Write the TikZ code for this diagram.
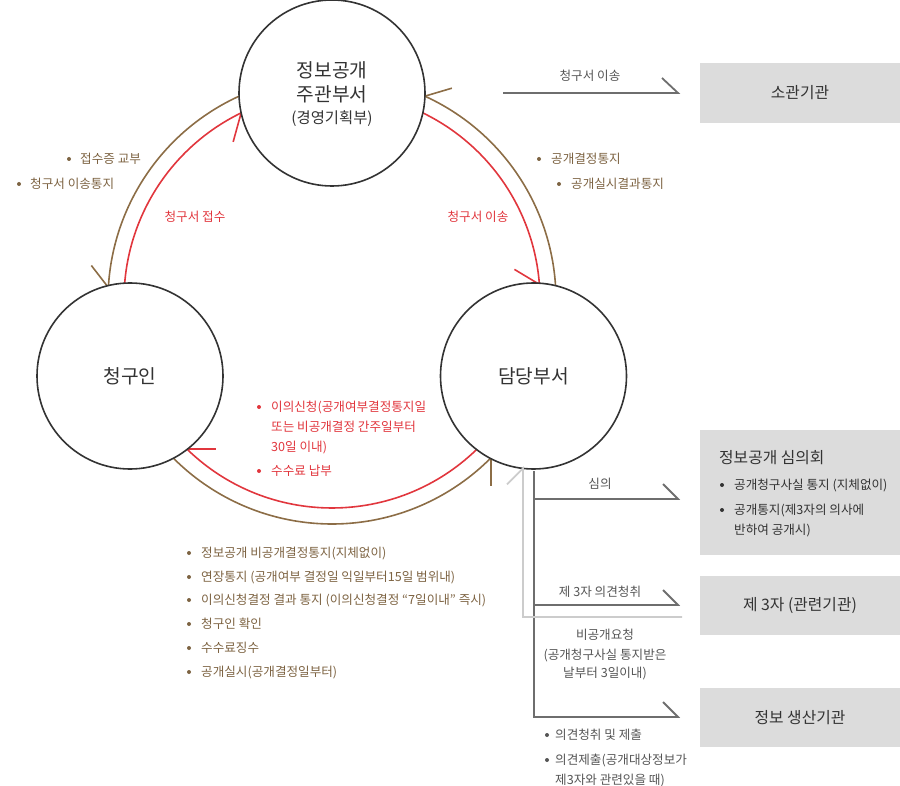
\documentclass[tikz,border=0pt]{standalone}
\usepackage{fontspec}
\setmainfont{Noto Sans CJK KR}
\definecolor{brownc}{HTML}{8C6D46}
\definecolor{browntx}{HTML}{7D6342}
\definecolor{redc}{HTML}{E1363D}
\definecolor{grayc}{HTML}{6E6E6E}
\definecolor{graytx}{HTML}{555555}
\definecolor{lgrayc}{HTML}{CCCCCC}
\definecolor{boxc}{HTML}{DCDCDC}
\definecolor{circc}{HTML}{333333}
\definecolor{darktx}{HTML}{333333}
\begin{document}
\begin{tikzpicture}[x=1pt,y=-1pt,
  circ/.style={circle,draw=circc,line width=1.6pt,fill=white,minimum size=186pt,inner sep=0pt,text=darktx,font=\fontsize{19.2}{22}\selectfont},
  brownarc/.style={draw=brownc,line width=1.6pt},
  redarc/.style={draw=redc,line width=1.6pt},
  grayline/.style={draw=grayc,line width=1.8pt},
  lgline/.style={draw=lgrayc,line width=1.8pt},
  box/.style={fill=boxc,draw=none,minimum width=200pt,inner sep=0pt,text=darktx,font=\fontsize{15.8}{18}\selectfont},
  sm/.style={font=\fontsize{12.6}{15}\selectfont,inner sep=0pt,anchor=base west},
  smc/.style={font=\fontsize{12.6}{15}\selectfont,inner sep=0pt,anchor=base},
  lg/.style={font=\fontsize{19.2}{22}\selectfont,inner sep=0pt,anchor=base,text=darktx},
  md/.style={font=\fontsize{15.8}{18}\selectfont,inner sep=0pt,text=darktx}]
\useasboundingbox (0,0) rectangle (900,786);

% centre of the ring of arcs
\coordinate (O) at (332,300);

% ---------- arcs (brown outer, red inner) ----------
\draw[brownarc] ([shift={(O)}]-114.5:224) arc[start angle=-114.5,end angle=-176.8,radius=224];
\draw[brownarc] ([shift={(O)}]-3.35:224) arc[start angle=-3.35,end angle=-65.5,radius=224];
\draw[brownarc] ([shift={(O)}]134.9:224) arc[start angle=134.9,end angle=44.8,radius=224];
\draw[redarc] ([shift={(O)}]-175.9:208) arc[start angle=-175.9,end angle=-115.9,radius=208];
\draw[redarc] ([shift={(O)}]-64.1:208) arc[start angle=-64.1,end angle=-4.3,radius=208];
\draw[redarc] ([shift={(O)}]45.8:208) arc[start angle=45.8,end angle=134.2,radius=208];

\coordinate (tBL) at ([shift={(O)}]-176.8:224);
\coordinate (tBT) at ([shift={(O)}]-65.5:224);
\coordinate (tBB) at ([shift={(O)}]44.8:224);
\coordinate (tRT) at ([shift={(O)}]-115.9:208);
\coordinate (tRR) at ([shift={(O)}]-4.3:208);
\coordinate (tRB) at ([shift={(O)}]134.2:208);
\draw[brownarc] (tBL) -- ++(-17,-22);
\draw[brownarc] (tBT) -- ++(27,-8);
\draw[brownarc] (tBB) -- ++(0,28);
\draw[redarc] (tRT) -- ++(-8,29);
\draw[redarc] (tRR) -- ++(-25,-15);
\draw[redarc] (tRB) -- ++(29,0);

% ---------- circles ----------
\node[circ] (top) at (332,93) {};
\node[circ] (left) at (130,376) {청구인};
\node[circ] (right) at (533.5,376) {담당부서};
\node[lg] (top1) at (332,77.1) {정보공개};
\node[lg] (top2) at (332,101.1) {주관부서};
\node[md,anchor=base,font=\fontsize{15.4}{18}\selectfont] (top3) at (332,123.7) {(경영기획부)};

% ---------- boxes ----------
\node[box,minimum height=60pt] (b1) at (800,93) {소관기관};
\node[box,minimum height=125pt,anchor=north west] (b2) at (700,430) {};
\node[box,minimum height=59pt] (b3) at (800,605.5) {제 3자 (관련기관)};
\node[box,minimum height=59pt] (b4) at (800,717.5) {정보 생산기관};
\node[md,anchor=base west] (b2t) at (719,463.8) {정보공개 심의회};
\fill[darktx] (722,485) circle[radius=2pt];
\fill[darktx] (722,510) circle[radius=2pt];
\node[sm,text=darktx] (b2a) at (734,489.7) {공개청구사실 통지 (지체없이)};
\node[sm,text=darktx] (b2b) at (734,514.7) {공개통지(제3자의 의사에};
\node[sm,text=darktx] (b2c) at (734,534.7) {반하여 공개시)};

% ---------- gray connectors ----------
\coordinate (s1) at (503,93);
\coordinate (e1) at (678,93);
\draw[grayline] (s1) -- (e1) -- ++(-16,-15);
\node[smc,text=graytx] (l1) at (590,80.2) {청구서 이송};

\coordinate (v0) at (534,471);
\coordinate (v1) at (534,499);
\coordinate (v2) at (534,605);
\coordinate (v3) at (534,717);
\coordinate (h1) at (678,499);
\coordinate (h2) at (678,605);
\coordinate (h3) at (678,717);
\draw[grayline] (v0) -- (v3) -- (h3) -- ++(-15,-15);
\draw[grayline] (v1) -- (h1) -- ++(-15,-15);
\draw[grayline] (v2) -- (h2) -- ++(-15,-15);
\node[smc,text=graytx] (l2) at (600,488.7) {심의};
\node[smc,text=graytx] (l3) at (600,596.7) {제 3자 의견청취};
\node[smc,text=graytx] (l4) at (605,639.7) {비공개요청};
\node[smc,text=graytx] (l5) at (605,659.7) {(공개청구사실 통지받은};
\node[smc,text=graytx] (l6) at (605,677.7) {날부터 3일이내)};

\coordinate (g0) at (682,617);
\coordinate (g1) at (523,617);
\coordinate (gt) at ([shift={(right.center)}]96.5:93);
\draw[lgline] (g0) -- (g1) -- (gt) -- ++(-16,16);

\fill[graytx] (547,735) circle[radius=2pt];
\fill[graytx] (547,760) circle[radius=2pt];
\node[sm,text=graytx] (r1) at (555,739.7) {의견청취 및 제출};
\node[sm,text=graytx] (r2) at (555,764.7) {의견제출(공개대상정보가};
\node[sm,text=graytx] (r3) at (555,784.5) {제3자와 관련있을 때)};

% ---------- brown labels ----------
\fill[browntx] (69,159) circle[radius=2pt];
\fill[browntx] (19,184) circle[radius=2pt];
\node[sm,text=browntx] (p1) at (80,163.7) {접수증 교부};
\node[sm,text=browntx] (p2) at (30,188.7) {청구서 이송통지};
\fill[browntx] (539,159) circle[radius=2pt];
\fill[browntx] (559,184) circle[radius=2pt];
\node[sm,text=browntx] (q1) at (551,163.7) {공개결정통지};
\node[sm,text=browntx] (q2) at (571,188.7) {공개실시결과통지};

\foreach \yy in {553,577,600,624,648,672} \fill[browntx] (189,\yy) circle[radius=2pt];
\node[sm,text=browntx] (u1) at (201,557.7) {정보공개 비공개결정통지(지체없이)};
\node[sm,text=browntx] (u2) at (201,581.7) {연장통지 (공개여부 결정일 익일부터15일 범위내)};
\node[sm,text=browntx] (u3) at (201,604.7) {이의신청결정 결과 통지 (이의신청결정 “7일이내” 즉시)};
\node[sm,text=browntx] (u4) at (201,628.7) {청구인 확인};
\node[sm,text=browntx] (u5) at (201,652.7) {수수료징수};
\node[sm,text=browntx] (u6) at (201,676.7) {공개실시(공개결정일부터)};

% ---------- red labels ----------
\node[smc,text=redc] (m1) at (195,221.7) {청구서 접수};
\node[smc,text=redc] (m2) at (478,221.7) {청구서 이송};
\fill[redc] (259,407) circle[radius=2pt];
\fill[redc] (259,471) circle[radius=2pt];
\node[sm,text=redc] (n1) at (271,411.7) {이의신청(공개여부결정통지일};
\node[sm,text=redc] (n2) at (271,431.7) {또는 비공개결정 간주일부터};
\node[sm,text=redc] (n3) at (271,451.7) {30일 이내)};
\node[sm,text=redc] (n4) at (271,475.7) {수수료 납부};
\end{tikzpicture}
\end{document}
